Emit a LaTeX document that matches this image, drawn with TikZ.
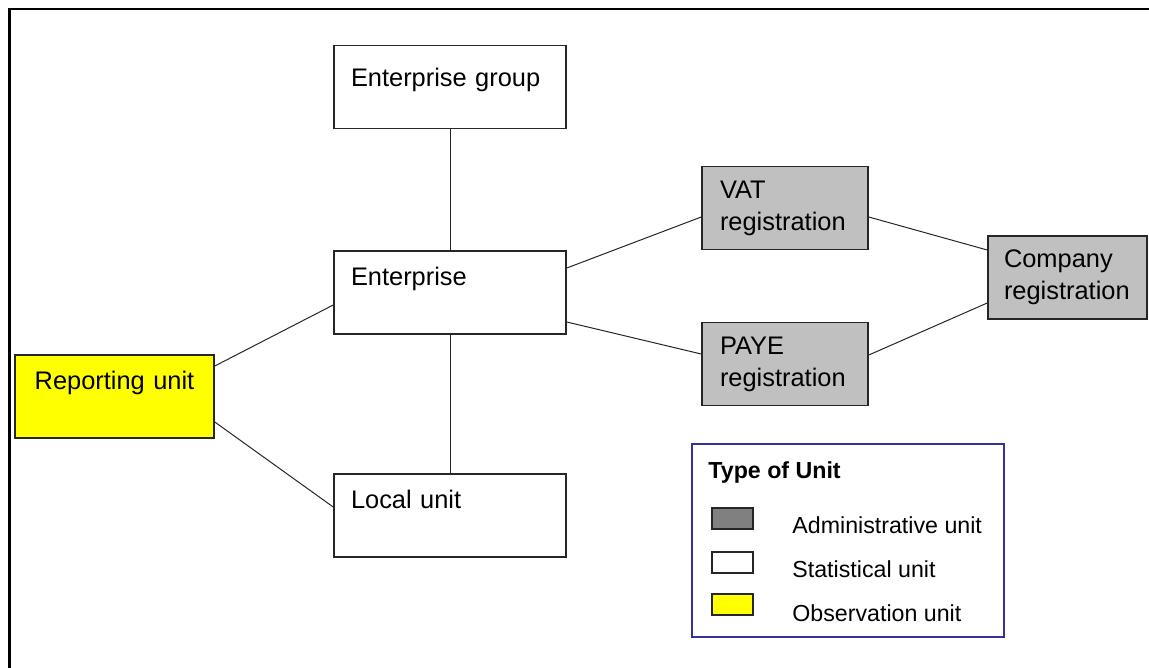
\documentclass[tikz,border=0pt]{standalone}
\usepackage{fontspec}
\setmainfont{Liberation Sans}
\definecolor{admingray}{HTML}{C0C0C0}
\definecolor{swatchgray}{HTML}{808080}
\definecolor{obsyellow}{HTML}{FFFF00}
\definecolor{legendblue}{HTML}{333399}
\newcommand{\boxfont}{\fontsize{12.7}{16}\selectfont}
\newcommand{\keyfont}{\fontsize{11.6}{14}\selectfont}

\begin{document}
\begin{tikzpicture}[x=0.5pt, y=-0.5pt]
            \tikzstyle{unit}=[draw=black!85, line width=0.8pt, inner xsep=8.5pt, inner ysep=0pt, minimum height=41.5pt, align=left, font=\boxfont]
            \tikzstyle{stat}=[unit, fill=white, text width=99pt]
            \tikzstyle{admin}=[unit, fill=admingray, text width=65pt, inner xsep=9pt]
            \tikzstyle{oneline}=[text height=9.5pt, text depth=16.5pt]
            \tikzstyle{link}=[line width=0.5pt, black!85]
            \tikzstyle{swatch}=[draw=black!85, line width=0.8pt, inner sep=0pt, minimum width=20.5pt, minimum height=10.5pt]
            \tikzstyle{keytext}=[anchor=base west, inner sep=0pt, font=\keyfont]
            \useasboundingbox (0,0) rectangle (1149,668);
            % frame
            \draw[line width=1.25pt] (9.5,668) -- (9.5,9) -- (1149,9);
            % statistical units
            \node[stat, oneline, text depth=9.5pt] (group) at (450,87) {Enterprise group};
            \node[stat, oneline] (ent) at (450,292.5) {Enterprise};
            \node[stat, oneline] (local) at (450,515.5) {Local unit};
            \node[unit, oneline, fill=obsyellow, text width=82.5pt, align=center] (rep) at (114.5,396.5) {Reporting unit};
            % administrative units
            \node[admin] (vat) at (785,208) {VAT\\registration};
            \node[admin] (paye) at (785,364) {PAYE\\registration};
            \node[admin, text width=63.5pt, inner xsep=8pt] (comp) at (1067.5,277.5) {Company\\registration};
            % links
            \draw[link] (group.south) -- (ent.north);
            \draw[link] (ent.south) -- (local.north);
            \draw[link] ([yshift=15.25pt]rep.east) -- ([yshift=-6.25pt]ent.west);
            \draw[link] ([yshift=-12.75pt]rep.east) -- ([yshift=4.25pt]local.west);
            \draw[link] ([yshift=12.25pt]ent.east) -- ([yshift=-4.5pt]vat.west);
            \draw[link] ([yshift=-14.75pt]ent.east) -- ([yshift=5pt]paye.west);
            \draw[link] ([yshift=-4.5pt]vat.east) -- ([yshift=13.75pt]comp.west);
            \draw[link] ([yshift=4.5pt]paye.east) -- ([yshift=-12.75pt]comp.west);
            % legend
            \node[draw=legendblue, line width=0.8pt, minimum width=156pt, minimum height=96.5pt, inner sep=0pt] (key) at (848,540.5) {};
            \node[keytext, font=\keyfont\bfseries] (keytitle) at (708,478) {Type of Unit};
            \node[swatch, fill=swatchgray] (swadmin) at (732.5,518.5) {};
            \node[swatch, fill=white] (swstat) at (732.5,562.5) {};
            \node[swatch, fill=obsyellow] (swobs) at (732.5,604.5) {};
            \node[keytext] (keyadmin) at (792,533) {Administrative unit};
            \node[keytext] (keystat) at (792,577) {Statistical unit};
            \node[keytext] (keyobs) at (792,621) {Observation unit};
        \end{tikzpicture}
\end{document}
